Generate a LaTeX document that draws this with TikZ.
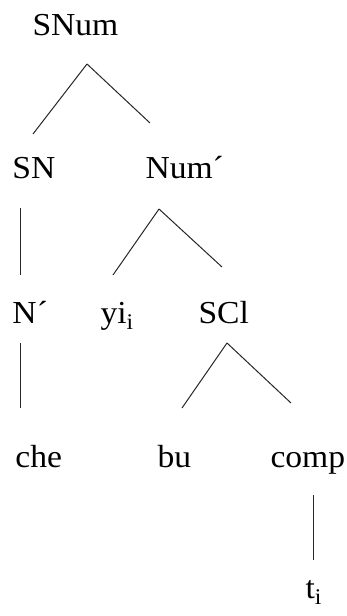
\documentclass[tikz,border=0pt]{standalone}
\usepackage{fontspec}
\setmainfont{Liberation Serif}[FakeStretch=1.05]
\usepackage{tikz}
\usetikzlibrary{positioning}

\begin{document}
\begin{tikzpicture}[x=1pt,y=-1pt,line width=1pt,
                    word node/.style={font=\fontsize{32}{38}\selectfont,inner sep=0pt,anchor=base west}]

      \useasboundingbox (0,0) rectangle (346,616);

      \node[word node] (SNum) at (32,35) {SNum};
      \node[word node] (SN) at (12,178) {SN};
      \node[word node] (Num) at (145,178) {Num´};
      \node[word node] (N) at (12,323) {N´};
      \node[word node] (yi) at (100,323) {yi\textsubscript{i}};
      \node[word node] (SCl) at (198,323) {SCl};
      \node[word node] (che) at (15,467) {che};
      \node[word node] (bu) at (157,467) {bu};
      \node[word node] (comp) at (270,467) {comp};
      \node[word node] (t) at (305,598) {t\textsubscript{i}};
      \path[draw=black!85]
        ([shift={(55,29)}]SNum.base west) edge ([shift={(21,-44)}]SN.base west)
        ([shift={(55,29)}]SNum.base west) edge ([shift={(5,-55)}]Num.base west)
        ([shift={(8,30)}]SN.base west) edge ([shift={(8,-48)}]N.base west)
        ([shift={(14,31)}]Num.base west) edge ([shift={(13,-48)}]yi.base west)
        ([shift={(14,31)}]Num.base west) edge ([shift={(24,-56)}]SCl.base west)
        ([shift={(8,20)}]N.base west) edge ([shift={(5,-59)}]che.base west)
        ([shift={(29,20)}]SCl.base west) edge ([shift={(25,-59)}]bu.base west)
        ([shift={(29,20)}]SCl.base west) edge ([shift={(21,-64)}]comp.base west)
        ([shift={(43,28)}]comp.base west) edge ([shift={(8,-38)}]t.base west);
    \end{tikzpicture}
\end{document}
